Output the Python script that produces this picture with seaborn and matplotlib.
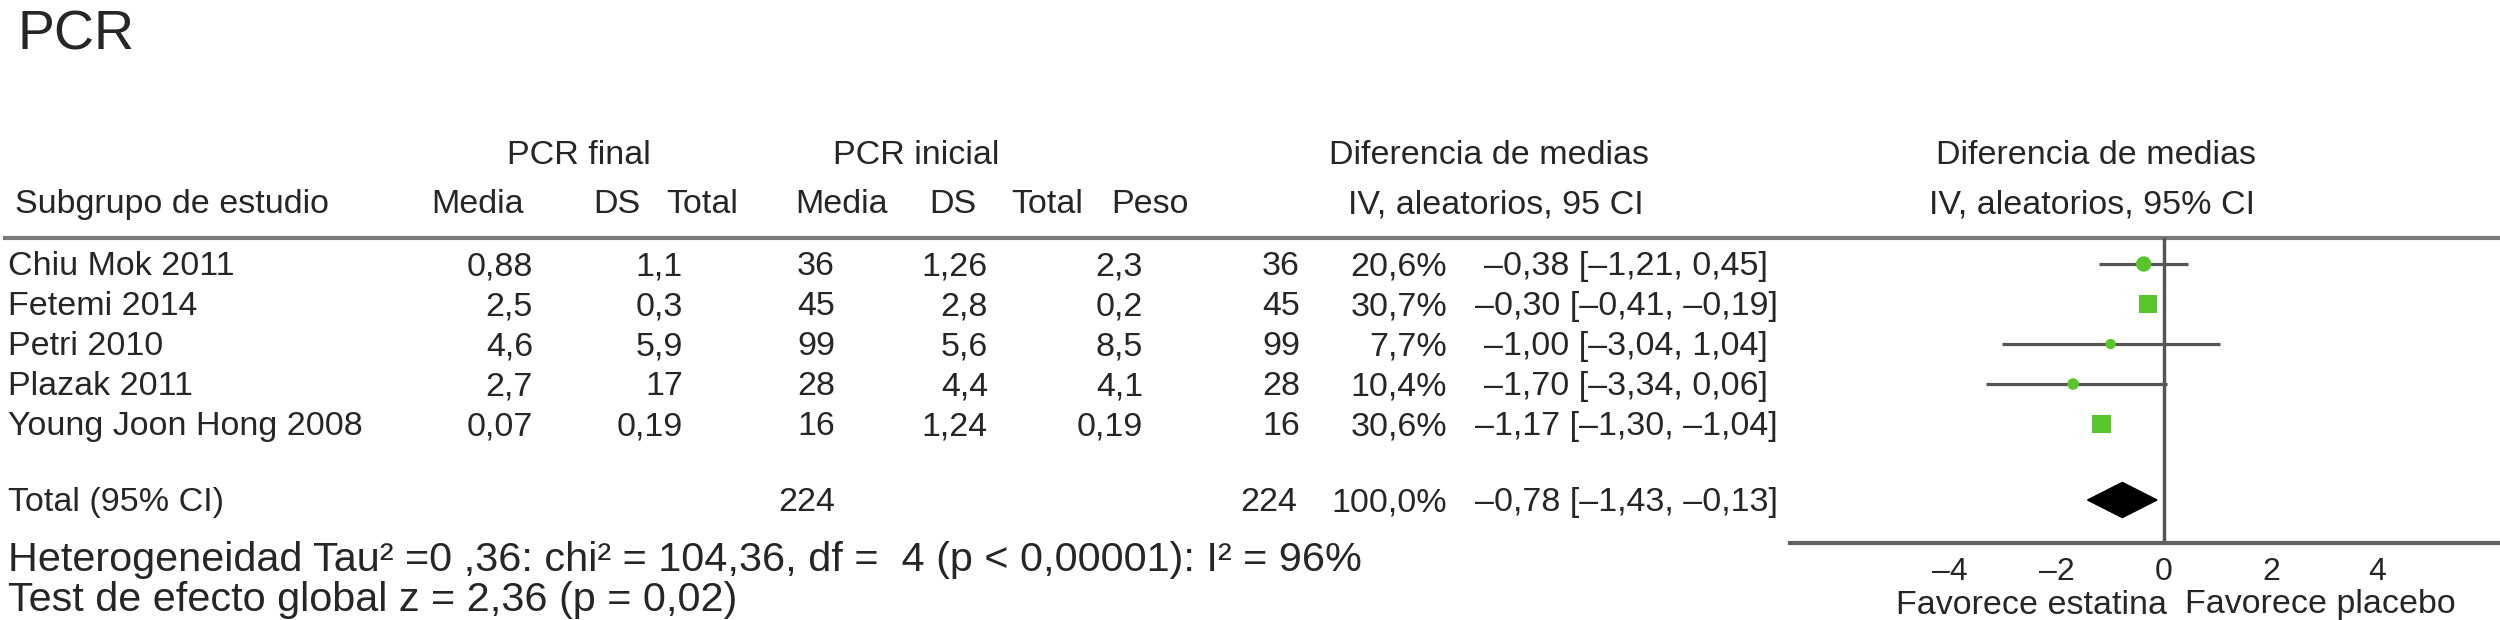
import numpy as np
import pandas as pd
import matplotlib
matplotlib.use("Agg")
import matplotlib.pyplot as plt
import seaborn as sns
from matplotlib.patches import Polygon

# ------------------------------------------------------------
# Style and fonts (set the font list after seaborn style)
# ------------------------------------------------------------
sns.set_style("white")
plt.rcParams["font.family"] = ["Liberation Sans", "DejaVu Sans"]

# ------------------------------------------------------------
# Data
# ------------------------------------------------------------
estudios = ["Chiu Mok 2011", "Fetemi 2014", "Petri 2010", "Plazak 2011", "Young Joon Hong 2008"]
final_media = ["0,88", "2,5", "4,6", "2,7", "0,07"]
final_ds = ["1,1", "0,3", "5,9", "17", "0,19"]
final_total = ["36", "45", "99", "28", "16"]
inicial_media = ["1,26", "2,8", "5,6", "4,4", "1,24"]
inicial_ds = ["2,3", "0,2", "8,5", "4,1", "0,19"]
inicial_total = ["36", "45", "99", "28", "16"]
peso = [20.6, 30.7, 7.7, 10.4, 30.6]
dif = [-0.38, -0.30, -1.00, -1.70, -1.17]
ic_inf = [-1.21, -0.41, -3.04, -3.34, -1.30]
ic_sup = [0.45, -0.19, 1.04, 0.06, -1.04]

total_final = 224
total_inicial = 224
total_dif = -0.78
total_inf = -1.43
total_sup = -0.13

ticks = [-4, -2, 0, 2, 4]


def fmt(v, d=2):
    return f"{v:.{d}f}".replace(".", ",").replace("-", "\u2013")


def ci_text(d, lo, hi):
    return f"{fmt(d)} [{fmt(lo)}, {fmt(hi)}]"


# ------------------------------------------------------------
# Layout (pixels on a 2500 x 620 canvas)
# ------------------------------------------------------------
W, H = 2500, 620
ROW0, STEP = 264, 40          # centre of first study row, row spacing
SEP_Y, AXIS_Y = 238, 543      # separator line, forest x axis
FOREST_X0 = 1790
FS = 24.5                     # table font size
FS_FOOT = 29.8                # heterogeneity / overall effect lines
GRAY = "#555555"
GREEN = "#56c62a"


def row_base(i):
    return ROW0 + STEP * i + 11


fig = plt.figure(figsize=(W / 100, H / 100), dpi=100)

tab = fig.add_axes([0, 0, 1, 1])
tab.set_xlim(0, W)
tab.set_ylim(H, 0)
tab.axis("off")

# Title
tab.text(18, 50, "PCR", fontsize=40, va="baseline")

# Header rows
hdr_top = 164
hdr_bot = 213
tab.text(579, hdr_top, "PCR final", fontsize=FS, ha="center", va="baseline")
tab.text(916, hdr_top, "PCR inicial", fontsize=FS, ha="center", va="baseline")
tab.text(1489, hdr_top, "Diferencia de medias", fontsize=FS, ha="center", va="baseline")
tab.text(2096, hdr_top, "Diferencia de medias", fontsize=FS, ha="center", va="baseline")

tab.text(15, hdr_bot, "Subgrupo de estudio", fontsize=FS, va="baseline")
for cx, lab in [(478, "Media"), (617, "DS"), (702, "Total"), (842, "Media"),
                (953, "DS"), (1047, "Total"), (1150, "Peso")]:
    tab.text(cx, hdr_bot, lab, fontsize=FS, ha="center", va="baseline")
tab.text(1496, hdr_bot, "IV, aleatorios, 95 CI", fontsize=FS, ha="center", va="baseline")
tab.text(2092, hdr_bot, "IV, aleatorios, 95% CI", fontsize=FS, ha="center", va="baseline")

# Separator line
tab.plot([3, W], [SEP_Y, SEP_Y], color="#7a7a7a", lw=3, solid_capstyle="butt")

# Study rows
col_right = [533, 683, 835, 988, 1143, 1300]
for i, name in enumerate(estudios):
    yb = row_base(i)
    tab.text(8, yb, name, fontsize=FS, va="baseline")
    vals = [final_media[i], final_ds[i], final_total[i],
            inicial_media[i], inicial_ds[i], inicial_total[i]]
    for x, v in zip(col_right, vals):
        tab.text(x, yb, v, fontsize=FS, ha="right", va="baseline")
    tab.text(1447, yb, fmt(peso[i], 1) + "%", fontsize=FS, ha="right", va="baseline")
    tab.text(1626, yb, ci_text(dif[i], ic_inf[i], ic_sup[i]),
             fontsize=FS, ha="center", va="baseline")

# Total row
TOTAL_ROW = 5.9
yb = row_base(TOTAL_ROW)
tab.text(8, yb, "Total (95% CI)", fontsize=FS, va="baseline")
tab.text(835, yb, str(total_final), fontsize=FS, ha="right", va="baseline")
tab.text(1297, yb, str(total_inicial), fontsize=FS, ha="right", va="baseline")
tab.text(1447, yb, "100,0%", fontsize=FS, ha="right", va="baseline")
tab.text(1626, yb, ci_text(total_dif, total_inf, total_sup),
         fontsize=FS, ha="center", va="baseline")

# Heterogeneity and overall effect
tab.text(8, 571, "Heterogeneidad Tau\u00b2 =0 ,36: chi\u00b2 = 104,36, df =  4 (p < 0,00001): I\u00b2 = 96%",
         fontsize=FS_FOOT, va="baseline")
tab.text(8, 611, "Test de efecto global z = 2,36 (p = 0,02)", fontsize=FS_FOOT, va="baseline")

# ------------------------------------------------------------
# Forest plot panel
# ------------------------------------------------------------
ax = fig.add_axes([FOREST_X0 / W, 1 - AXIS_Y / H, (W - FOREST_X0) / W, (AXIS_Y - SEP_Y) / H])
ax.patch.set_alpha(0)
ax.set_xlim(-7, 6.29)
ax.set_ylim((AXIS_Y - ROW0) / STEP, (SEP_Y - ROW0) / STEP)

df = pd.DataFrame({"estudio": estudios, "dif": dif, "peso": peso,
                   "inf": ic_inf, "sup": ic_sup, "fila": np.arange(len(estudios))})
df["forma"] = np.where(df["peso"] > 25, "cuadrado", "circulo")

ax.axvline(0, color=GRAY, lw=2.5, zorder=1)
ax.hlines(df["fila"], df["inf"], df["sup"], color=GRAY, lw=2.3, zorder=2)
sns.scatterplot(data=df, x="dif", y="fila", size="peso", sizes=(55, 175),
                style="forma", markers={"cuadrado": "s", "circulo": "o"},
                color=GREEN, edgecolor="none", linewidth=0, legend=False,
                ax=ax, zorder=3)

h = 0.44
ax.add_patch(Polygon([(total_inf, TOTAL_ROW), (total_dif, TOTAL_ROW - h),
                      (total_sup, TOTAL_ROW), (total_dif, TOTAL_ROW + h)],
                     closed=True, facecolor="black", edgecolor="black", zorder=3))

for s in ["top", "right", "left"]:
    ax.spines[s].set_visible(False)
ax.spines["bottom"].set_color("#606060")
ax.spines["bottom"].set_linewidth(3)
ax.set_xticks(ticks)
ax.set_xticklabels([fmt(t, 0) for t in ticks])
ax.set_yticks([])
ax.tick_params(axis="x", direction="inout", length=14, width=2.5, color="#606060",
               labelsize=23, pad=3)
ax.set_xlabel("")
ax.set_ylabel("")

lab_y = (605 - ROW0) / STEP
ax.text(0.05, lab_y, "Favorece estatina", fontsize=FS, ha="right", va="center")
ax.text(0.4, lab_y, "Favorece placebo", fontsize=FS, ha="left", va="center")

fig.savefig("out.png", dpi=100)
plt.close(fig)
